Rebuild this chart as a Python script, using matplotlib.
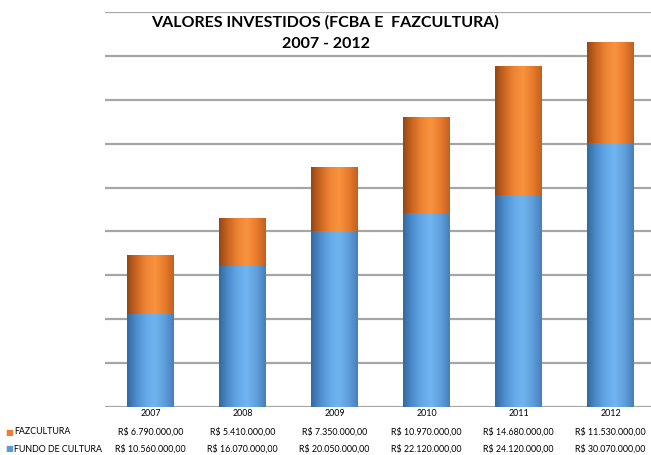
import numpy as np
import matplotlib
matplotlib.use("Agg")
import matplotlib.pyplot as plt
from matplotlib.colors import LinearSegmentedColormap

# dados (R$)
anos = ["2007", "2008", "2009", "2010", "2011", "2012"]
fazcultura = [6790000, 5410000, 7350000, 10970000, 14680000, 11530000]
fundo_cultura = [10560000, 16070000, 20050000, 22120000, 24120000, 30070000]
rotulos_faz = ["R$ 6.790.000,00", "R$ 5.410.000,00", "R$ 7.350.000,00",
               "R$ 10.970.000,00", "R$ 14.680.000,00", "R$ 11.530.000,00"]
rotulos_fundo = ["R$ 10.560.000,00", "R$ 16.070.000,00", "R$ 20.050.000,00",
                 "R$ 22.120.000,00", "R$ 24.120.000,00", "R$ 30.070.000,00"]

plt.rcParams['font.family'] = ['Lato', 'DejaVu Sans']

AZUL = "#5b9bd5"
LARANJA = "#ed7d31"

# gradientes tipo "cilindro"
cmap_azul = LinearSegmentedColormap.from_list(
    "azul", ["#34689e", "#4d8dcd", "#64a8e7", "#70b4ef", "#5f9fdb", "#4680ba"])
cmap_laranja = LinearSegmentedColormap.from_list(
    "laranja", ["#944614", "#cc6621", "#ef8434", "#f8933f", "#e97c2c", "#c0601e"])

fig = plt.figure(figsize=(6.51, 4.55), dpi=100)
ax = fig.add_axes([0.161, 0.1055, 0.86, 0.868])

x = np.arange(len(anos))
largura = 0.51
grad = np.linspace(0, 1, 256).reshape(1, -1)

barras_fundo = ax.bar(x, fundo_cultura, largura, color=AZUL, zorder=3)
barras_faz = ax.bar(x, fazcultura, largura, bottom=fundo_cultura, color=LARANJA, zorder=3)

for barras, cmap in [(barras_fundo, cmap_azul), (barras_faz, cmap_laranja)]:
    for b in barras:
        x0, y0 = b.get_x(), b.get_y()
        w, h = b.get_width(), b.get_height()
        im = ax.imshow(grad, cmap=cmap, aspect="auto", extent=(x0, x0 + w, y0, y0 + h),
                       zorder=4, interpolation="bicubic")
        im.set_clip_path(b)

ax.set_xlim(-0.5, 5.59)
ax.set_ylim(0, 45000000)
ax.set_yticks(np.arange(0, 45000001, 5000000))
ax.yaxis.grid(True, color="#a6a6a6", linewidth=1.6, zorder=0)
ax.set_axisbelow(True)
ax.tick_params(left=False, bottom=False, labelleft=False, labelbottom=False)
for s in ax.spines.values():
    s.set_visible(False)

# titulo
fig.text(0.5, 1 - 22 / 455, "VALORES INVESTIDOS (FCBA E  FAZCULTURA)",
         ha="center", va="center", fontsize=11.5, fontweight="bold")
fig.text(0.5, 1 - 44 / 455, "2007 - 2012",
         ha="center", va="center", fontsize=11.5, fontweight="bold")

# tabela de dados
trans = ax.get_xaxis_transform()
def y_ax(py):
    # pixel da figura -> fração do eixo
    return ((1 - py / 455) - 0.1055) / 0.868

for i in range(len(anos)):
    ax.text(x[i], y_ax(414), anos[i], transform=trans, ha="center", va="center",
            fontsize=6.4, clip_on=False)
    ax.text(x[i], y_ax(432), rotulos_faz[i], transform=trans, ha="center", va="center",
            fontsize=6.4, clip_on=False)
    ax.text(x[i], y_ax(449), rotulos_fundo[i], transform=trans, ha="center", va="center",
            fontsize=6.4, clip_on=False)

fig.text(0.008, 1 - 432 / 455, "\u25a0", color=LARANJA, fontsize=6, va="center")
fig.text(0.022, 1 - 432 / 455, "FAZCULTURA", fontsize=6.4, va="center")
fig.text(0.008, 1 - 449 / 455, "\u25a0", color=AZUL, fontsize=6, va="center")
fig.text(0.022, 1 - 449 / 455, "FUNDO DE CULTURA", fontsize=6.4, va="center")

fig.savefig("out.png", dpi=100)
